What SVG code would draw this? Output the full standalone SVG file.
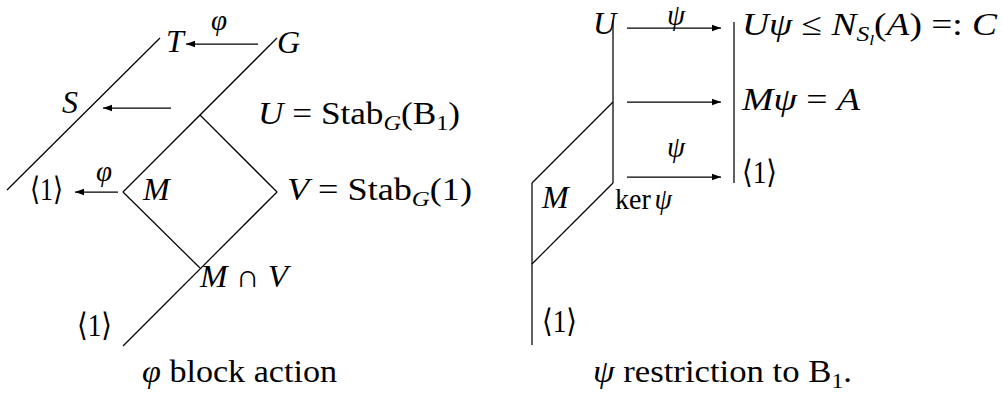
<svg xmlns="http://www.w3.org/2000/svg" width="1003" height="394" viewBox="0 0 1003 394">
<style>
text{font-family:"Liberation Serif","DejaVu Serif","DejaVu Sans",serif;font-size:32px;fill:#000}
.i{font-style:italic}
.sub{font-size:22px}
.ssub{font-size:15px}
.lbl{font-size:29px}
line{stroke:#000;stroke-width:1.25;fill:none}
.arr{marker-end:url(#ah)}
</style>
<defs>
<marker id="ah" markerWidth="10" markerHeight="8" refX="9" refY="4" orient="auto" markerUnits="userSpaceOnUse"><path d="M0,0.8 L9,4 L0,7.2 Z" fill="#000"/></marker>
</defs>
<rect width="1003" height="394" fill="#fff"/>
<g id="connectors">
<line x1="7" y1="190" x2="160" y2="38"/>
<line x1="277" y1="38" x2="123" y2="192"/>
<line x1="200" y1="115" x2="277" y2="192"/>
<line x1="123" y1="192" x2="200" y2="268"/>
<line x1="277" y1="192" x2="123" y2="346"/>
<line class="arr" x1="258" y1="44" x2="186" y2="44"/>
<line class="arr" x1="171" y1="108" x2="103" y2="108"/>
<line class="arr" x1="118" y1="192" x2="75" y2="192"/>
<line x1="613" y1="20" x2="613" y2="183"/>
<line x1="613" y1="102" x2="532" y2="183"/>
<line x1="613" y1="183" x2="532" y2="264"/>
<line x1="532" y1="183" x2="532" y2="345"/>
<line x1="734" y1="22" x2="734" y2="183"/>
<line class="arr" x1="627" y1="28" x2="721" y2="28"/>
<line class="arr" x1="627" y1="102" x2="721" y2="102"/>
<line class="arr" x1="627" y1="177" x2="721" y2="177"/>
</g>
<g id="node-T"><text class="i" x="166" y="52">T</text></g>
<g id="node-G"><text class="i" x="277" y="53">G</text></g>
<g id="label-phi-top"><text class="i lbl" x="211" y="30">φ</text></g>
<g id="node-S"><text class="i" x="62" y="113">S</text></g>
<g id="node-1-left"><text x="30" y="200" textLength="33" lengthAdjust="spacingAndGlyphs">⟨1⟩</text></g>
<g id="label-phi-small"><text class="i lbl" x="96" y="181">φ</text></g>
<g id="node-M-left"><text class="i" x="143" y="200">M</text></g>
<g id="node-U-def"><text x="258" y="124" textLength="202" lengthAdjust="spacingAndGlyphs"><tspan class="i">U</tspan> = Stab<tspan class="i sub" dy="6">G</tspan><tspan dy="-6">(B</tspan><tspan class="sub" dy="6">1</tspan><tspan dy="-6">)</tspan></text></g>
<g id="node-V-def"><text x="287" y="200" textLength="185" lengthAdjust="spacingAndGlyphs"><tspan class="i">V</tspan> = Stab<tspan class="i sub" dy="6">G</tspan><tspan dy="-6">(1)</tspan></text></g>
<g id="node-MV"><text x="200" y="287" textLength="88" lengthAdjust="spacingAndGlyphs"><tspan class="i">M</tspan> ∩ <tspan class="i">V</tspan></text></g>
<g id="node-1-bottom"><text x="77" y="336" textLength="35" lengthAdjust="spacingAndGlyphs">⟨1⟩</text></g>
<g id="caption-left"><text x="142" y="382" textLength="195" lengthAdjust="spacingAndGlyphs"><tspan class="i">φ</tspan> block action</text></g>
<g id="node-U"><text class="i" x="593" y="34">U</text></g>
<g id="label-psi-top"><text class="i lbl" x="667" y="25">ψ</text></g>
<g id="node-Upsi"><text x="742" y="35" textLength="255" lengthAdjust="spacingAndGlyphs"><tspan class="i">Uψ</tspan> ≤ <tspan class="i">N</tspan><tspan class="i sub" dy="6">S</tspan><tspan class="i ssub" dy="4">l</tspan><tspan dy="-10">(</tspan><tspan class="i">A</tspan>) =: <tspan class="i">C</tspan></text></g>
<g id="node-Mpsi"><text x="742" y="110" textLength="118" lengthAdjust="spacingAndGlyphs"><tspan class="i">Mψ</tspan> = <tspan class="i">A</tspan></text></g>
<g id="label-psi-bottom"><text class="i lbl" x="667" y="157">ψ</text></g>
<g id="node-1-right"><text x="742" y="183" textLength="35" lengthAdjust="spacingAndGlyphs">⟨1⟩</text></g>
<g id="node-M-right"><text class="i" x="542" y="208">M</text></g>
<g id="node-ker"><text class="lbl" x="615" y="209" textLength="57" lengthAdjust="spacingAndGlyphs">ker<tspan class="i" dx="4">ψ</tspan></text></g>
<g id="node-1-bottom-right"><text x="542" y="332" textLength="35" lengthAdjust="spacingAndGlyphs">⟨1⟩</text></g>
<g id="caption-right"><text x="593" y="382" textLength="259" lengthAdjust="spacingAndGlyphs"><tspan class="i">ψ</tspan> restriction to B<tspan class="sub" dy="6">1</tspan><tspan dy="-6">.</tspan></text></g>
</svg>
